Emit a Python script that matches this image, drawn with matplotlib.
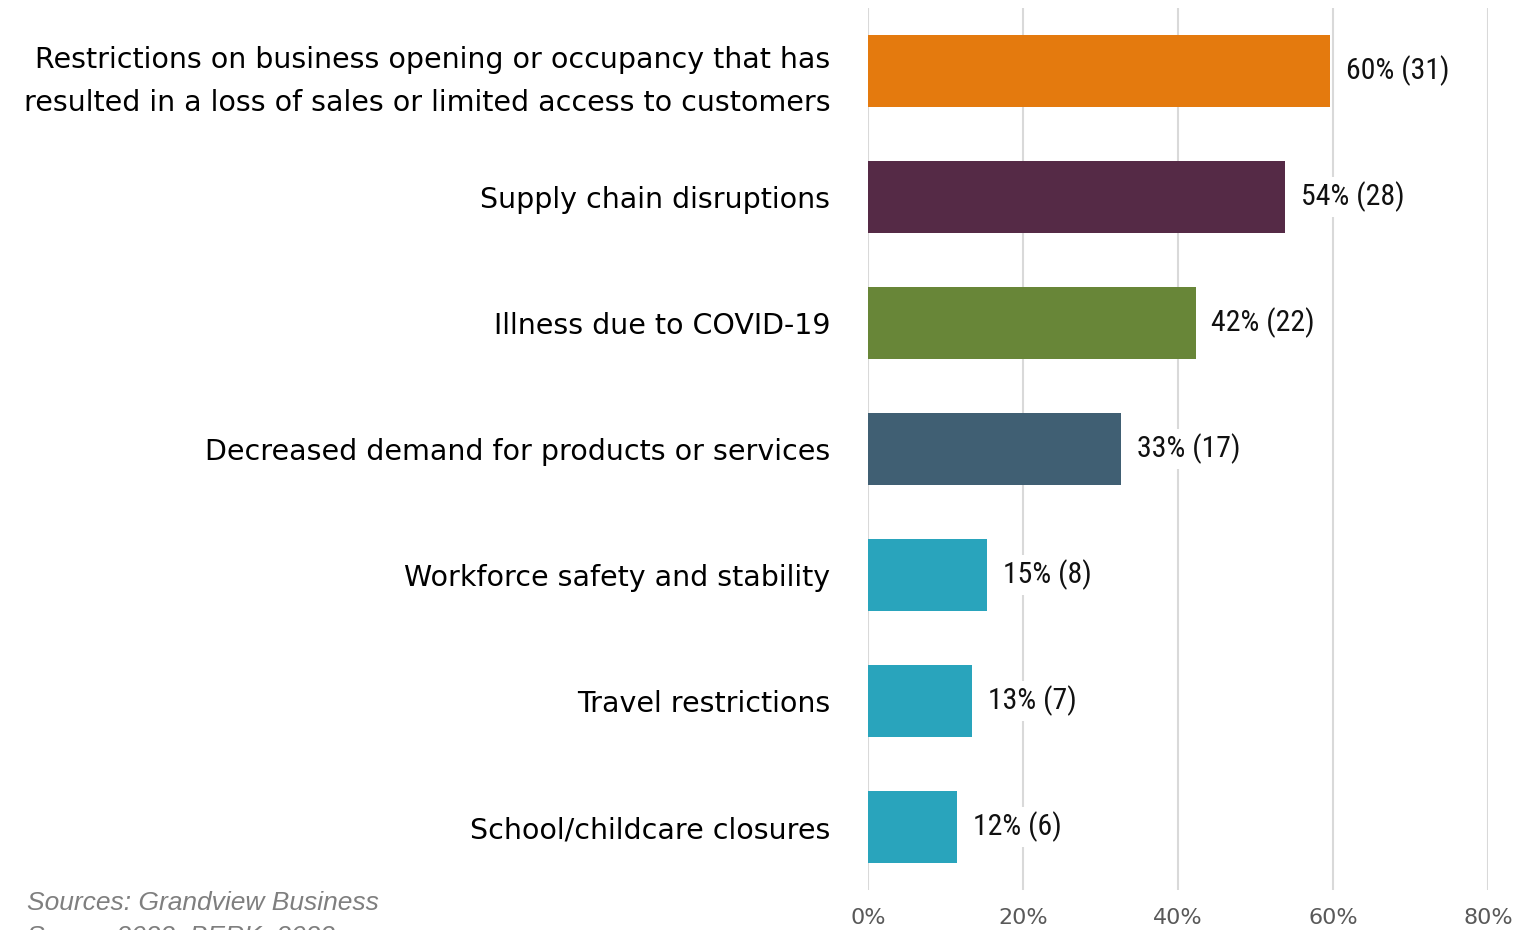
import matplotlib
matplotlib.use("Agg")
import matplotlib.pyplot as plt
from matplotlib import font_manager

# survey responses (n = 52 businesses)
categories = [
    "Restrictions on business opening or occupancy that has\nresulted in a loss of sales or limited access to customers",
    "Supply chain disruptions",
    "Illness due to COVID-19",
    "Decreased demand for products or services",
    "Workforce safety and stability",
    "Travel restrictions",
    "School/childcare closures",
]
counts = [31, 28, 22, 17, 8, 7, 6]
respondents = 52
colors = ["#E47A0E", "#552A46", "#688638", "#405F73", "#29A4BC", "#29A4BC", "#29A4BC"]
ticks = [0, 20, 40, 60, 80]

pcts = [c / respondents * 100 for c in counts]

# narrow face for the value labels if one is around
installed = {f.name for f in font_manager.fontManager.ttflist}
narrow = [n for n in ["Roboto Condensed", "DejaVu Sans Condensed", "Liberation Sans Narrow",
                      "Open Sans Condensed", "Noto Sans Condensed"] if n in installed]
if narrow:
    val_font, val_size = narrow[0], 21.5
else:
    val_font, val_size = "DejaVu Sans", 17

fig = plt.figure(figsize=(15.31, 9.30), dpi=100)
ax = fig.add_axes([868 / 1531, 1 - 890 / 930, 620 / 1531, 882 / 930])

ypos = list(range(len(categories)))
ax.barh(ypos, pcts, height=0.57, color=colors, zorder=2)

for y, p, c in zip(ypos, pcts, counts):
    ax.text(p + 2.0, y, f"{p:.0f}% ({c})", va="center", ha="left",
            fontsize=val_size, family=val_font, fontstretch="condensed",
            color="#111111", zorder=3,
            bbox=dict(boxstyle="square,pad=0.15", fc="white", ec="none"))

ax.set_xlim(0, 80)
ax.set_ylim(6.5, -0.5)
ax.set_xticks(ticks)
ax.set_xticklabels([f"{t}%" for t in ticks], fontsize=16, color="#595959", family="DejaVu Sans")
ax.set_yticks(ypos)
ax.set_yticklabels(categories, fontsize=20.5, family="DejaVu Sans", color="black", linespacing=1.7)
ax.tick_params(axis="y", length=0, pad=27)
ax.tick_params(axis="x", length=0, pad=13)
ax.grid(axis="x", color="#d9d9d9", linewidth=1.5, zorder=0)
for s in ax.spines.values():
    s.set_visible(False)

fig.text(27 / 1531, 1 - 891 / 930, "Sources: Grandview Business\nSurvey 2022, BERK, 2022",
         ha="left", va="top", fontsize=19, style="italic", color="#7f7f7f",
         family="Liberation Sans", linespacing=1.55)

fig.savefig("out.png", dpi=100)
